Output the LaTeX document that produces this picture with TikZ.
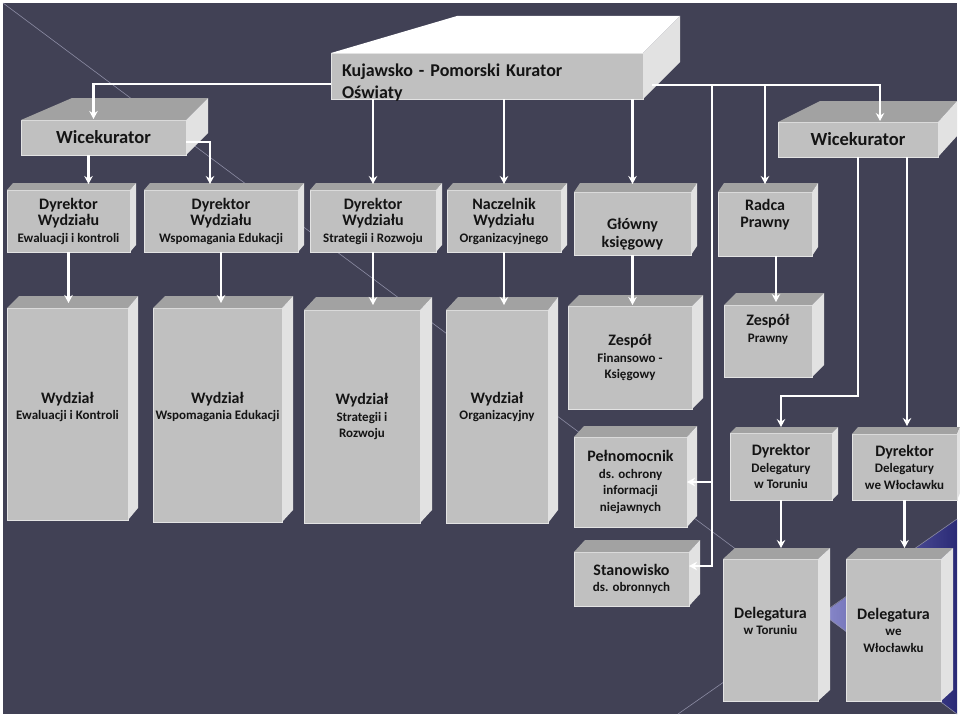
\documentclass[tikz,border=0pt]{standalone}
\usepackage{fontspec}
\setmainfont{Carlito}
\usetikzlibrary{arrows.meta,positioning,calc}

\definecolor{bgslate}{HTML}{414155}
\definecolor{frontgray}{HTML}{C0C0C0}
\definecolor{topgray}{HTML}{A2A2A2}
\definecolor{sidegray}{HTML}{E2E2E2}
\definecolor{diagline}{HTML}{8C8CA4}
\definecolor{triblue}{HTML}{2A2A76}
\definecolor{trilight}{HTML}{8A8ACC}

\newcommand{\firstline}[1]{{\fontsize{16}{18}\selectfont #1}}

\begin{document}
\begin{tikzpicture}[
  x=1pt, y=-1pt,
  font=\fontsize{13}{16.5}\selectfont\bfseries,
  box/.style 2 args={
    rectangle, anchor=north west,
    fill=frontgray, draw=white!55!frontgray, line width=0.7pt,
    text=black!92, align=center, inner sep=2pt, outer sep=0pt,
    minimum width=#1pt, minimum height=#2pt
  },
  baseline at/.style 2 args={
    inner ysep=0pt, text height=#1pt, text depth=#2pt
  },
  headbox/.style={
    font=\fontsize{18}{22}\selectfont\bfseries
  },
  arrow/.style={
    -{Stealth[length=8pt,width=8.5pt]}, draw=white, line width=2.2pt
  }
]

% Background
\useasboundingbox (0,0) rectangle (960,717);
\fill[white] (0,0) rectangle (960,717);
\fill[bgslate] (3,3) rectangle (957,714);
\shade[left color=trilight, right color=triblue] (822,614) -- (957,519) -- (957,714) -- cycle;
\draw[diagline, line width=0.6pt] (3,3) -- (957,714);
\draw[diagline, line width=0.6pt] (678,714) -- (957,519);

% Top levels
\node[box={312}{46}, headbox, align=left, text width=290pt, baseline at={23}{23}] (kurator) at (331,53)
  {Kujawsko - Pomorski Kurator\\Oświaty};
\node[box={165}{35}, headbox, font=\fontsize{18.5}{22}\selectfont\bfseries] (wice1) at (21,120) {Wicekurator};
\node[box={160}{35}, headbox, font=\fontsize{18.5}{22}\selectfont\bfseries] (wice2) at (778,122) {Wicekurator};

% Directors
\node[box={123}{62}] (dewal) at (7,190) {\firstline{Dyrektor}\\\firstline{Wydziału}\\Ewaluacji i kontroli};
\node[box={154}{62}] (dwsp) at (144,190) {\firstline{Dyrektor}\\\firstline{Wydziału}\\Wspomagania Edukacji};
\node[box={126}{62}] (dstr) at (310,190) {\firstline{Dyrektor}\\\firstline{Wydziału}\\Strategii i Rozwoju};
\node[box={114}{62}] (norg) at (447,190) {\firstline{Naczelnik}\\\firstline{Wydziału}\\Organizacyjnego};
\node[box={117}{63}, baseline at={55.5}{7.5}] (ksieg) at (574,192) {\firstline{Główny}\\[2pt]\firstline{księgowy}};
\node[box={94}{64}, baseline at={35.5}{28.5}] (radca) at (718,192) {\firstline{Radca}\\[1pt]\firstline{Prawny}};

% Departments
\node[box={121}{212}, baseline at={111.5}{100.5}] (wewal) at (7,308) {\firstline{Wydział}\\Ewaluacji i Kontroli};
\node[box={129}{214}, baseline at={111.5}{102.5}] (wwsp) at (153,308) {\firstline{Wydział}\\Wspomagania Edukacji};
\node[box={116}{213}] (wstr) at (304,310) {\firstline{Wydział}\\Strategii i\\Rozwoju};
\node[box={102}{213}, baseline at={109.5}{103.5}] (worg) at (446,310) {\firstline{Wydział}\\Organizacyjny};
\node[box={124}{103}] (zfin) at (568,306) {\firstline{Zespół}\\Finansowo -\\Księgowy};
\node[box={88}{72}, baseline at={37}{35}] (zpraw) at (724,305) {\firstline{Zespół}\\Prawny};
\node[box={113}{90}] (pelnom) at (574,437) {\firstline{Pełnomocnik}\\ds. ochrony\\informacji\\niejawnych};
\node[box={115}{54}] (stanow) at (574,552) {\firstline{Stanowisko}\\ds. obronnych};

% Delegations
\node[box={102}{67}] (dtor) at (730,433) {\firstline{Dyrektor}\\Delegatury\\w Toruniu};
\node[box={105}{66}] (dwlo) at (852,434) {\firstline{Dyrektor}\\Delegatury\\we Włocławku};
\node[box={95}{142}, baseline at={75.5}{66.5}] (deltor) at (723,559) {\firstline{Delegatura}\\w Toruniu};
\node[box={95}{142}] (delwlo) at (846,559) {\firstline{Delegatura}\\we\\Włocławku};

% Box depth (top and side faces)
\foreach \n/\dx/\dy/\s/\tc in {kurator/37/37/126/white, wice1/22/22/51/topgray, wice2/19/21/42/topgray,
    dewal/6/7/6/topgray, dwsp/6/7/6/topgray, dstr/6/7/6/topgray, norg/6/7/6/topgray,
    ksieg/6/9/6/topgray, radca/6/9/6/topgray,
    wewal/10/12/12/topgray, wwsp/11/12/12/topgray, wstr/12/13/12/topgray, worg/10/13/12/topgray,
    zfin/11/11/11/topgray, zpraw/12/12/12/topgray, pelnom/10/11/10/topgray, stanow/11/12/11/topgray,
    dtor/6/6/6/topgray, dwlo/3/7/6/topgray, deltor/12/11/12/topgray, delwlo/12/11/12/topgray} {
  \fill[\tc] (\n.north west) -- ++(\s,-\dy) -- ($(\n.north east)+(\dx,-\dy)$) -- (\n.north east) -- cycle;
  \fill[sidegray] (\n.north east) -- ++(\dx,-\dy) -- ($(\n.south east)+(\dx,-\dy)$) -- (\n.south east) -- cycle;
}

% Arrows
\coordinate (busl) at ([yshift=-8pt]kurator.west);
\coordinate (busr) at ([yshift=-9pt]kurator.east);
\coordinate (split) at ($(busr)+(69,0)$);

\draw[arrow, shorten >=1pt] (busl) -| ([xshift=-10pt]wice1.north);
\draw[arrow, shorten >=1pt, shorten <=9pt] (busr) -| ([xshift=22pt]wice2.north);

\draw[arrow, shorten >=6pt] (kurator.south -| dstr.north) -- (dstr.north);
\draw[arrow, shorten >=6pt] (kurator.south -| norg.north) -- (norg.north);
\draw[arrow, shorten >=8pt] (kurator.south -| ksieg.north) -- (ksieg.north);
\draw[arrow, shorten >=8pt] (busr -| radca.north) -- (radca.north);

\draw[arrow] (split) |- (pelnom.east);
\draw[arrow] (split) |- ([yshift=13pt]stanow.east);

\draw[arrow, shorten >=6pt] ([xshift=-15pt]wice1.south) -- ++(0,35);
\draw[arrow, shorten >=6pt] ([yshift=-4.5pt]wice1.east) -| ([xshift=-11pt]dwsp.north);

\draw[arrow, shorten >=6pt] (wice2.south) -- ++(0,239) -| (dtor.north);
\draw[arrow, shorten >=8pt] ([xshift=49pt]wice2.south) -- ++(0,277);

\draw[arrow, shorten >=5pt] (dewal.south) -- (dewal.south |- wewal.north);
\draw[arrow, shorten >=5pt] (dwsp.south) -- (dwsp.south |- wwsp.north);
\draw[arrow, shorten >=5pt] (dstr.south) -- (dstr.south |- wstr.north);
\draw[arrow, shorten >=5pt] (norg.south) -- (norg.south |- worg.north);
\draw[arrow, shorten >=1pt] (ksieg.south) -- (ksieg.south |- zfin.north);
\draw[arrow, shorten >=2pt] ([xshift=11pt]radca.south) -- ++(0,48);

\draw[arrow, shorten >=11pt] (dtor.south) -- (dtor.south |- deltor.north);
\draw[arrow, shorten >=11pt] (dwlo.south) -- (dwlo.south |- delwlo.north);

\end{tikzpicture}
\end{document}
